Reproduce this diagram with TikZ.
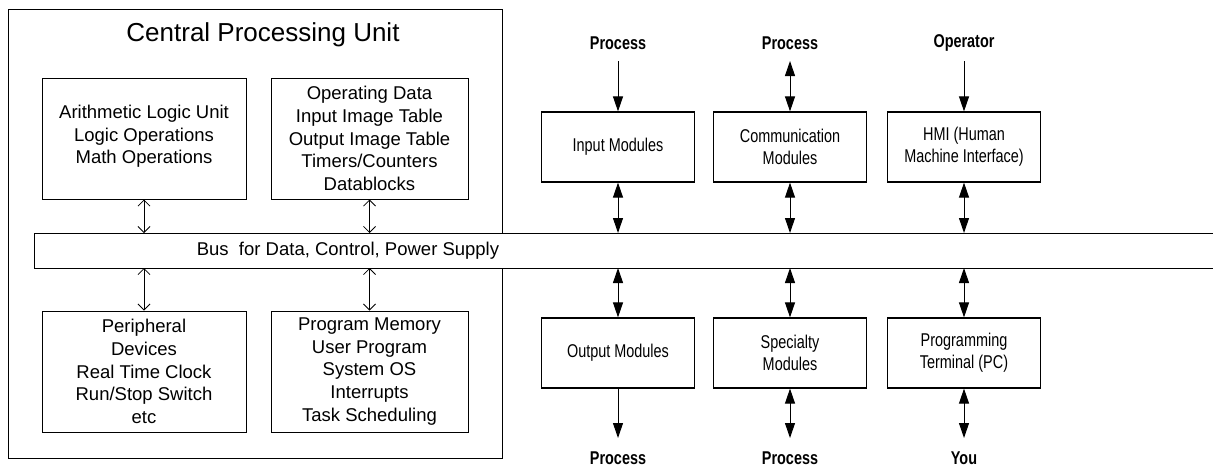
\documentclass[tikz,border=0pt]{standalone}
\usepackage{fontspec}
\setmainfont{Liberation Sans}
\newfontfamily\narrowsf[FakeStretch=0.78]{Liberation Sans}
\usetikzlibrary{arrows.meta}

\tikzset{
  cpubox/.style={draw, line width=1pt, align=center, inner sep=0pt,
    minimum height=121pt, font=\fontsize{18.5}{22.7}\selectfont},
  modbox/.style={draw, line width=1.2pt, align=center, inner sep=0pt,
    minimum width=153pt, minimum height=70pt, font=\narrowsf\fontsize{18.5}{22}\selectfont},
  lbl/.style={inner sep=0pt, font=\narrowsf\bfseries\fontsize{18.5}{22}\selectfont},
  cpuarr/.style={{Straight Barb[length=6pt,width=12pt]}-{Straight Barb[length=6pt,width=12pt]}, line width=0.8pt},
  modarr/.style={-{Triangle[length=15pt,width=10pt]}, line width=1pt},
  modboth/.style={{Triangle[length=15pt,width=10pt]}-{Triangle[length=15pt,width=10pt]}, line width=1pt}
}

\begin{document}
\begin{tikzpicture}[x=1pt, y=-1pt]
  \useasboundingbox (0,0) rectangle (1213,466);

  % CPU frame
  \node[draw, line width=1pt, minimum width=494pt, minimum height=449pt, inner sep=0pt] (cpu) at (255,233.5) {};
  \node[font=\fontsize{26}{30}\selectfont] (cputitle) at (263,35) {Central Processing Unit};

  \node[cpubox, minimum width=204pt, text depth=8pt] (alu) at (144,138.5) {Arithmetic Logic Unit\\Logic Operations\\Math Operations};
  \node[cpubox, minimum width=197pt] (opdata) at (369.5,138.5) {Operating Data\\Input Image Table\\Output Image Table\\Timers/Counters\\Datablocks};
  \node[cpubox, minimum width=204pt] (periph) at (144,371.5) {Peripheral\\Devices\\Real Time Clock\\Run/Stop Switch\\etc};
  \node[cpubox, minimum width=197pt] (progmem) at (369.5,371.5) {Program Memory\\User Program\\System OS\\Interrupts\\Task Scheduling};

  % bus, open on the right
  \coordinate (busN) at (34,233);
  \coordinate (busS) at (34,268);
  \coordinate (busNE) at (1213,233);
  \coordinate (busSE) at (1213,268);
  \fill[white] (busN) rectangle (busSE);
  \draw[line width=1pt] (busNE) -- (busN) -- (busS) -- (busSE);
  \node[font=\fontsize{18.5}{22}\selectfont] (bustxt) at (348,251) {Bus\ \ for Data, Control, Power Supply};

  \draw[cpuarr] (alu.south) -- (alu.south |- busN);
  \draw[cpuarr] (opdata.south) -- (opdata.south |- busN);
  \draw[cpuarr] (periph.north) -- (periph.north |- busS);
  \draw[cpuarr] (progmem.north) -- (progmem.north |- busS);

  % modules above the bus
  \node[modbox] (inmod) at (618,147) {Input Modules};
  \node[modbox] (commod) at (790,147) {Communication\\Modules};
  \node[modbox] (hmi) at (964,147) {HMI (Human\\Machine Interface)};

  \node[lbl] (procA) at (618,43) {Process};
  \node[lbl] (procB) at (790,43) {Process};
  \node[lbl] (oper) at (964,43) {Operator};

  \draw[modarr] ([yshift=-18pt]procA.center) -- (inmod.north);
  \draw[modboth] ([yshift=-18pt]procB.center) -- (commod.north);
  \draw[modarr] ([yshift=-18pt]oper.center) -- (hmi.north);

  \draw[modboth] (inmod.south) -- (inmod.south |- busN);
  \draw[modboth] (commod.south) -- (commod.south |- busN);
  \draw[modboth] (hmi.south) -- (hmi.south |- busN);

  % modules below the bus
  \node[modbox] (outmod) at (618,353) {Output Modules};
  \node[modbox] (specmod) at (790,353) {Specialty\\Modules};
  \node[modbox] (progterm) at (964,353) {Programming\\Terminal (PC)};

  \draw[modboth] (outmod.north |- busS) -- (outmod.north);
  \draw[modboth] (specmod.north |- busS) -- (specmod.north);
  \draw[modboth] (progterm.north |- busS) -- (progterm.north);

  \node[lbl] (procC) at (618,458) {Process};
  \node[lbl] (procD) at (790,458) {Process};
  \node[lbl] (you) at (964,458) {You};

  \draw[modarr] (outmod.south) -- ([yshift=20pt]procC.center);
  \draw[modboth] (specmod.south) -- ([yshift=20pt]procD.center);
  \draw[modboth] (progterm.south) -- ([yshift=20pt]you.center);
\end{tikzpicture}
\end{document}
